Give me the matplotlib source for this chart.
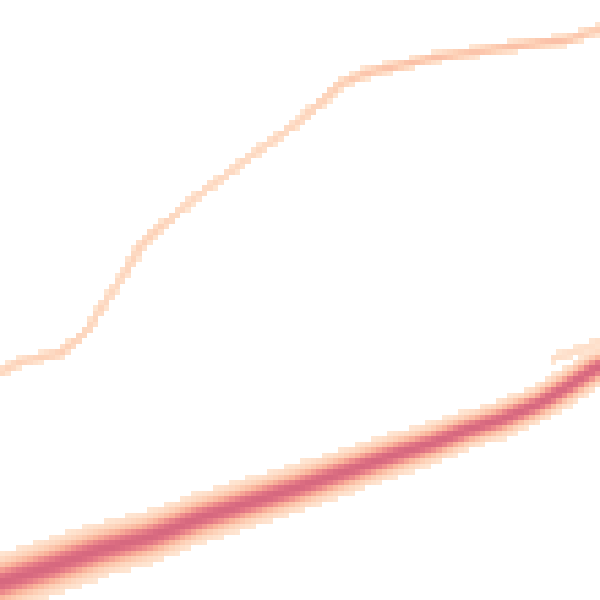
import numpy as np
import matplotlib.pyplot as plt
from matplotlib.colors import LinearSegmentedColormap

# centre lines (pixel coords, y down)
upper_x = [0, 20, 60, 77, 90, 100, 113, 127, 140, 153, 173, 190, 200, 250, 300, 320, 340, 367, 393, 433, 467, 500, 540, 567, 600]
upper_y = [373, 362, 353, 340, 327, 310, 290, 270, 247, 233, 217, 202, 194, 157, 121, 103, 84, 73, 67, 58, 53, 48, 43, 40, 29]
upper_peak = [0.25, 0.28, 0.32, 0.28, 0.25, 0.25, 0.22, 0.25, 0.28, 0.3, 0.25, 0.22, 0.22, 0.22, 0.25, 0.3, 0.33, 0.4, 0.42, 0.45, 0.4, 0.42, 0.45, 0.42, 0.32]

lower_x = [0, 50, 100, 150, 187, 200, 300, 400, 433, 467, 500, 540, 567, 593, 600]
lower_y = [583, 567, 550, 537, 523, 518, 487, 453, 443, 430, 420, 403, 387, 370, 366]
lower_width = [12.5, 12.5, 12, 11.5, 11, 11, 10.5, 9.5, 9, 8.5, 8.5, 8, 8, 8, 8]

fringe_x = [555, 580, 600]
fringe_y = [358, 350, 342]

colors = ['#fee6d3', '#fdd0b6', '#f9b39a', '#ee8d8c', '#e07384', '#d6687f']
stops = [0.0, 0.25, 0.5, 0.72, 0.9, 1.0]
cmap = LinearSegmentedColormap.from_list('band', list(zip(stops, colors)))

N = 110
edges = np.linspace(0, 600, N + 1)
centres = (edges[:-1] + edges[1:]) / 2
CX, CY = np.meshgrid(centres, centres)


def trace(xs, ys, vals, step=1.0):
    # walk along the read polyline so each cell can find its nearest point
    pts, v = [], []
    for i in range(len(xs) - 1):
        seg = np.hypot(xs[i + 1] - xs[i], ys[i + 1] - ys[i])
        n = max(int(seg / step), 1)
        t = np.arange(n) / n
        pts.append(np.c_[xs[i] + t * (xs[i + 1] - xs[i]), ys[i] + t * (ys[i + 1] - ys[i])])
        v.append(vals[i] + t * (vals[i + 1] - vals[i]))
    return np.vstack(pts), np.concatenate(v)


def band(xs, ys, peaks, widths):
    pts, pk = trace(xs, ys, peaks)
    _, wd = trace(xs, ys, widths)
    Z = np.zeros(CX.shape)
    for (px, py), p, w in zip(pts, pk, wd):
        d2 = (CX - px) ** 2 + (CY - py) ** 2
        Z = np.maximum(Z, p * np.exp(-d2 / (2 * w ** 2)))
    return Z


Z = band(upper_x, upper_y, upper_peak, [3.3] * len(upper_x))
Z = np.maximum(Z, band(lower_x, lower_y, [1.0] * len(lower_x), lower_width))
Z = np.maximum(Z, band(fringe_x, fringe_y, [0.15] * 3, [4] * 3))

Zm = np.ma.masked_less(Z, 0.07)

fig = plt.figure(figsize=(6, 6), dpi=100)
ax = fig.add_axes([0, 0, 1, 1])
ax.pcolormesh(edges, edges, Zm, cmap=cmap, vmin=0.07, vmax=1.0)
ax.set_xlim(0, 600)
ax.set_ylim(600, 0)
ax.axis('off')
fig.savefig('out.png', dpi=100)
